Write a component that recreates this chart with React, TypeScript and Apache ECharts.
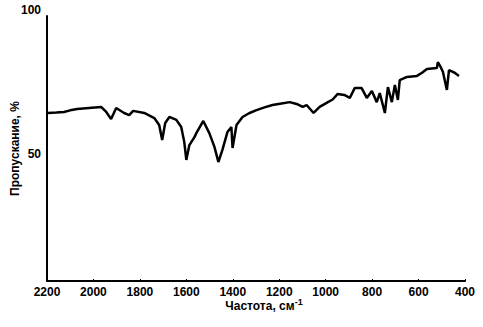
import React, { useEffect, useRef } from "react";
import * as echarts from "echarts";

// Wavenumber (cm^-1) and transmittance (%)
const wavenumbers = [
  2196, 2160, 2127, 2100, 2070, 2020, 1967, 1945, 1924, 1902, 1868, 1846, 1829, 1781,
  1738, 1717, 1704, 1691, 1673, 1643, 1622, 1609, 1600, 1587, 1565, 1557, 1527, 1501,
  1479, 1462, 1445, 1423, 1406, 1401, 1384, 1358, 1330, 1298, 1260, 1229, 1190, 1155,
  1125, 1099, 1082, 1052, 1026, 996, 970, 948, 920, 896, 875, 845, 823, 801, 780, 767,
  745, 732, 715, 702, 689, 681, 650, 607, 585, 564, 521, 517, 505, 495, 478, 469, 443, 426,
];
const transmittance = [
  63.4, 63.6, 63.8, 64.4, 64.9, 65.3, 65.7, 63.8, 61.1, 65.3, 63.4, 62.6, 64.2, 63.4,
  61.5, 58.9, 53.2, 59.6, 61.9, 60.8, 58.1, 52.5, 45.7, 51.3, 54.3, 55.8, 60.4, 55.8,
  50.6, 44.9, 49.4, 56.2, 58.1, 50.2, 58.9, 61.9, 63.3, 64.5, 65.6, 66.4, 67.0, 67.5,
  66.8, 65.7, 66.4, 63.4, 65.7, 67.2, 68.5, 70.6, 70.2, 69.1, 72.8, 72.8, 69.1, 71.7,
  67.5, 70.9, 63.4, 73.2, 67.5, 74.0, 68.3, 75.8, 77.0, 77.4, 78.6, 80.0, 80.4, 82.6,
  80.8, 78.9, 72.1, 79.6, 78.5, 77.4,
];

const yTicks = [50, 100];
const xLabel = "Частота, см";
const xLabelSup = "-1";
const yLabel = "Пропускание, %";

export default function App() {
  const ref = useRef<HTMLDivElement>(null);
  useEffect(() => {
    if (!ref.current) return;
    const chart = echarts.init(ref.current, null, { renderer: "svg" });
    const font = "'Liberation Sans', Arial, sans-serif";
    chart.setOption({
      animation: false,
      backgroundColor: "#ffffff",
      grid: { left: 47, right: 18, top: 16, bottom: 46, outerBoundsMode: "none", containLabel: false },
      xAxis: {
        type: "value",
        min: 400,
        max: 2200,
        interval: 200,
        inverse: true,
        name: `${xLabel}{sup|${xLabelSup}}`,
        nameLocation: "middle",
        nameGap: 16,
        nameMoveOverlap: false,
        nameTextStyle: {
          color: "#000",
          fontFamily: font,
          fontWeight: "bold",
          fontSize: 12,
          padding: [0, 0, 0, 16],
          rich: {
            sup: { fontSize: 9, fontWeight: "bold", fontFamily: font, color: "#000", padding: [0, 0, 8, 0] },
          },
        },
        axisLine: { show: true, lineStyle: { color: "#000", width: 2 } },
        axisTick: { show: true, inside: true, length: 2, lineStyle: { color: "#000", width: 1 } },
        axisLabel: {
          color: "#000",
          fontFamily: font,
          fontWeight: "bold",
          fontSize: 12,
          margin: 5,
          formatter: (v: number) => String(v),
        },
        splitLine: { show: false },
      },
      yAxis: {
        type: "value",
        min: 0,
        max: 100,
        interval: 50,
        name: yLabel,
        nameLocation: "middle",
        nameGap: 26,
        nameMoveOverlap: false,
        nameTextStyle: { color: "#000", fontFamily: font, fontWeight: "bold", fontSize: 12 },
        axisLine: { show: true, lineStyle: { color: "#000", width: 2 } },
        axisTick: { show: false },
        axisLabel: {
          color: "#000",
          fontFamily: font,
          fontWeight: "bold",
          fontSize: 12,
          margin: 6,
          formatter: (v: number) =>
            v === yTicks[1] ? `{a|${v}}` : v === yTicks[0] ? `{b|${v}}` : "",
          rich: {
            a: { fontFamily: font, fontWeight: "bold", fontSize: 12, color: "#000", padding: [0, 0, 12, 0] },
            b: { fontFamily: font, fontWeight: "bold", fontSize: 12, color: "#000", padding: [10, 0, 0, 0] },
          },
        },
        splitLine: { show: false },
      },
      series: [
        {
          type: "line",
          data: wavenumbers.map((w, i) => [w, transmittance[i]]),
          showSymbol: false,
          lineStyle: { color: "#000", width: 2.5 },
          itemStyle: { color: "#000" },
        },
      ],
    });
    return () => chart.dispose();
  }, []);
  return <div ref={ref} style={{ width: 483, height: 327, position: "absolute", left: 0, top: 0 }} />;
}
